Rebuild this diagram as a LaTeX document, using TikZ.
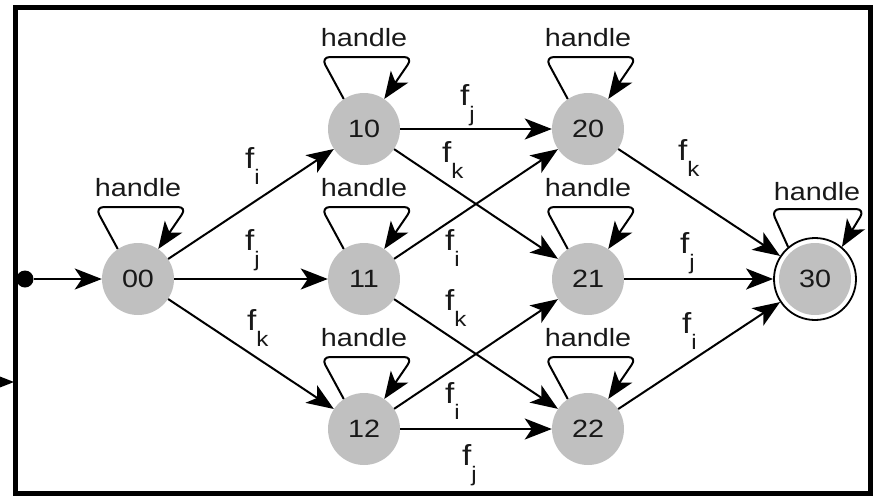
\documentclass[tikz,border=0pt]{standalone}
\usepackage{fontspec}
\setmainfont{Liberation Sans}[FakeStretch=1.15]
\usetikzlibrary{arrows.meta}
\definecolor{stategray}{RGB}{192,192,192}
\definecolor{txt}{RGB}{25,25,25}
\newcommand{\flab}[1]{f\raisebox{-16pt}{\fontsize{21}{21}\selectfont #1}}
\begin{document}
\begin{tikzpicture}[x=1pt,y=-1pt,
  state/.style={circle, fill=stategray, minimum size=72pt, inner sep=0pt, font=\fontsize{25}{25}\selectfont, text=txt},
  final/.style={circle, draw=black, line width=1.8pt, fill=white, minimum size=82pt, inner sep=0pt, font=\fontsize{25}{25}\selectfont, text=txt,
    path picture={\fill[stategray] (path picture bounding box.center) circle (36pt);}},
  arr/.style={line width=2pt, -{Stealth[length=27pt,width=21pt,inset=7pt]}},
  loopline/.style={arr, rounded corners=9pt},
  lbl/.style={anchor=base west, inner sep=0pt, font=\fontsize{29}{29}\selectfont, text=txt},
  hlbl/.style={inner sep=0pt, font=\fontsize{25}{25}\selectfont, text=txt},
  border/.style={draw=black, line width=5pt},
]
\useasboundingbox (0,0) rectangle (875,498);
\draw[border] (15,7) rectangle (870,493);

% states
\node[state] (n00) at (138,279) {00};
\node[state] (n10) at (364,129) {10};
\node[state] (n11) at (364,279) {11};
\node[state] (n12) at (364,429) {12};
\node[state] (n20) at (588,129) {20};
\node[state] (n21) at (588,279) {21};
\node[state] (n22) at (588,429) {22};
\node[final] (n30) at (815,279) {30};

% initial
\node[circle, fill=black, minimum size=17pt, inner sep=0pt] (start) at (25,279) {};
\draw[arr] (start) -- (n00);
\coordinate (stubA) at (-10,382);
\coordinate (stubB) at (14,382);
\draw[arr] (stubA) -- (stubB);

% self loops
\foreach \n in {n00,n10,n11,n12,n20,n21,n22}{
  \draw[loopline] (\n.124) -- ([shift={(-43,-72)}]\n.center) -- ([shift={(49,-72)}]\n.center) -- (\n.56);
}
\draw[loopline] (n30.130) -- ([shift={(-44,-70)}]n30.center) -- ([shift={(50,-70)}]n30.center) -- (n30.50);

\node[hlbl] (h00) at (138,188) {handle};
\node[hlbl] (h10) at (364,38) {handle};
\node[hlbl] (h11) at (364,188) {handle};
\node[hlbl] (h12) at (364,338) {handle};
\node[hlbl] (h20) at (588,38) {handle};
\node[hlbl] (h21) at (588,188) {handle};
\node[hlbl] (h22) at (588,338) {handle};
\node[hlbl] (h30) at (817,192) {handle};

% transitions
\draw[arr] (n00) -- (n10);
\draw[arr] (n00) -- (n11);
\draw[arr] (n00) -- (n12);
\draw[arr] (n10) -- (n20);
\draw[arr] (n10) -- (n21);
\draw[arr] (n11) -- (n20);
\draw[arr] (n11) -- (n22);
\draw[arr] (n12) -- (n21);
\draw[arr] (n12) -- (n22);
\draw[arr] (n20) -- (n30);
\draw[arr] (n21) -- (n30);
\draw[arr] (n22) -- (n30);

% labels
\node[lbl] (l1) at (245,168) {\flab{i}};
\node[lbl] (l2) at (245,250) {\flab{j}};
\node[lbl] (l3) at (247,330) {\flab{k}};
\node[lbl] (l4) at (460,105) {\flab{j}};
\node[lbl] (l5) at (442,162) {\flab{k}};
\node[lbl] (l6) at (445,250) {\flab{i}};
\node[lbl] (l7) at (445,310) {\flab{k}};
\node[lbl] (l8) at (445,403) {\flab{i}};
\node[lbl] (l9) at (462,465) {\flab{j}};
\node[lbl] (l10) at (678,160) {\flab{k}};
\node[lbl] (l11) at (680,253) {\flab{j}};
\node[lbl] (l12) at (682,333) {\flab{i}};
\end{tikzpicture}
\end{document}
